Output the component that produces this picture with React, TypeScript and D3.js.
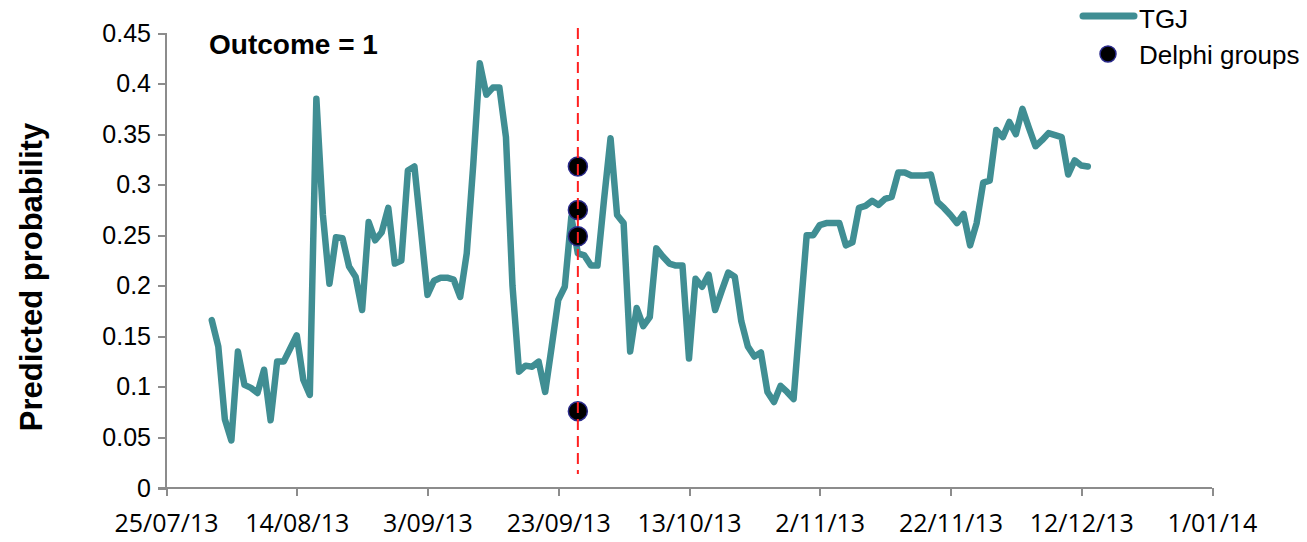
import React, { useRef, useEffect } from 'react';
import * as d3 from 'd3';

// daily predicted probability for TGJ, starting 1/08/13
const seriesStart = '2013-08-01';
const tgjValues = [
  0.166, 0.14, 0.068, 0.047, 0.135, 0.102, 0.099, 0.094, 0.117, 0.067,
  0.125, 0.125, 0.138, 0.151, 0.107, 0.092, 0.385, 0.27, 0.202, 0.248,
  0.247, 0.219, 0.209, 0.176, 0.263, 0.245, 0.253, 0.277, 0.222, 0.225,
  0.314, 0.318, 0.255, 0.191, 0.205, 0.208, 0.208, 0.206, 0.189, 0.232,
  0.32, 0.42, 0.389, 0.396, 0.396, 0.347, 0.2, 0.115, 0.121, 0.12,
  0.125, 0.095, 0.14, 0.186, 0.199, 0.268, 0.232, 0.23, 0.22, 0.22,
  0.285, 0.346, 0.27, 0.262, 0.135, 0.178, 0.16, 0.169, 0.237, 0.229,
  0.222, 0.22, 0.22, 0.128, 0.207, 0.199, 0.211, 0.176, 0.195, 0.213,
  0.209, 0.165, 0.14, 0.13, 0.134, 0.095, 0.085, 0.101, 0.095, 0.088,
  0.17, 0.25, 0.25, 0.26, 0.262, 0.262, 0.262, 0.24, 0.243, 0.277,
  0.279, 0.284, 0.28, 0.286, 0.288, 0.312, 0.312, 0.309, 0.309, 0.309,
  0.31, 0.283, 0.277, 0.27, 0.262, 0.271, 0.24, 0.262, 0.302, 0.304,
  0.354, 0.347, 0.362, 0.35, 0.375, 0.356, 0.338, 0.344, 0.351, 0.349,
  0.347, 0.31, 0.324, 0.319, 0.318,
];

const delphiDate = '2013-09-26';
const delphiValues = [0.318, 0.275, 0.249, 0.076];

const xTickLabels = ['25/07/13', '14/08/13', '3/09/13', '23/09/13', '13/10/13', '2/11/13', '22/11/13', '12/12/13', '1/01/14'];
const yTicks = [0, 0.05, 0.1, 0.15, 0.2, 0.25, 0.3, 0.35, 0.4, 0.45];

const TEAL = '#408e93';
const AXIS = '#8c8c8c';
const SANS = '"Liberation Sans", Arial, sans-serif';

const parse = d3.utcParse('%Y-%m-%d');

const App = () => {
  const svgRef = useRef<SVGSVGElement>(null);

  useEffect(() => {
    const svg = d3.select(svgRef.current);
    svg.selectAll('*').remove();

    svg.attr('width', 1307).attr('height', 542);

    const x0 = parse('2013-07-25')!;
    const x1 = parse('2014-01-01')!;
    const x = d3.scaleUtc().domain([x0, x1]).range([166, 1212]);
    const y = d3.scaleLinear().domain([0, 0.45]).range([488, 33]);

    const start = parse(seriesStart)!;
    const data = tgjValues.map((v, i) => ({ date: d3.utcDay.offset(start, i), value: v }));
    const tickDates = xTickLabels.map((_, i) => d3.utcDay.offset(x0, i * 20));
    const dx = x(parse(delphiDate)!);

    // y axis
    const yAxis = svg.append('g').attr('transform', 'translate(166,0)')
      .call(d3.axisLeft(y).tickValues(yTicks).tickSize(8).tickFormat(d => String(+d)));
    yAxis.select('.domain').attr('stroke', AXIS).attr('stroke-width', 2).attr('d', 'M0,33V488');
    yAxis.selectAll('.tick line').attr('stroke', AXIS).attr('stroke-width', 2);
    yAxis.selectAll('.tick text')
      .attr('x', -15)
      .style('font-family', SANS)
      .style('font-size', '25px')
      .attr('fill', '#000');

    // x axis
    const xAxis = svg.append('g').attr('transform', 'translate(0,488)')
      .call(d3.axisBottom(x).tickValues(tickDates).tickSize(8).tickFormat((_, i) => xTickLabels[i]));
    xAxis.select('.domain').attr('stroke', AXIS).attr('stroke-width', 2).attr('d', 'M158,0H1212');
    xAxis.selectAll('.tick line').attr('stroke', AXIS).attr('stroke-width', 2);
    xAxis.selectAll('.tick text')
      .attr('y', 26)
      .attr('dy', '0.71em')
      .style('font-family', '"Open Sans", sans-serif')
      .style('font-size', '25px')
      .attr('fill', '#000');
    svg.selectAll('.domain, .tick line').attr('shape-rendering', 'crispEdges');
    svg.selectAll('g').attr('font-family', null).attr('font-size', null);

    // TGJ line
    const line = d3.line<{ date: Date; value: number }>()
      .x(d => x(d.date))
      .y(d => y(d.value));
    svg.append('path')
      .datum(data)
      .attr('d', line)
      .attr('fill', 'none')
      .attr('stroke', TEAL)
      .attr('stroke-width', 6.5)
      .attr('stroke-linejoin', 'round')
      .attr('stroke-linecap', 'round');

    // Delphi groups
    svg.selectAll('circle.delphi')
      .data(delphiValues)
      .join('circle')
      .attr('class', 'delphi')
      .attr('cx', dx)
      .attr('cy', d => y(d))
      .attr('r', 9.5)
      .attr('fill', '#000')
      .attr('stroke', '#2b2b8c')
      .attr('stroke-width', 1.5);

    // red dashed marker, on top of the dots
    svg.append('line')
      .attr('x1', dx).attr('x2', dx)
      .attr('y1', 28).attr('y2', 474)
      .attr('stroke', '#ff2020').attr('stroke-width', 2)
      .attr('stroke-dasharray', '11,6');

    // annotation
    svg.append('text')
      .attr('x', 209).attr('y', 54)
      .style('font-family', SANS)
      .style('font-size', '28px')
      .style('font-weight', 'bold')
      .text('Outcome = 1');

    // y axis title
    svg.append('text')
      .attr('transform', 'translate(42,277) rotate(-90)')
      .attr('text-anchor', 'middle')
      .style('font-family', SANS)
      .style('font-size', '31px')
      .style('font-weight', 'bold')
      .text('Predicted probability');

    // legend
    const legend = svg.append('g');
    legend.append('line')
      .attr('x1', 1083).attr('x2', 1134).attr('y1', 16).attr('y2', 16)
      .attr('stroke', TEAL).attr('stroke-width', 7).attr('stroke-linecap', 'round');
    legend.append('text')
      .attr('x', 1139).attr('y', 28)
      .style('font-family', SANS)
      .style('font-size', '26px')
      .text('TGJ');
    legend.append('circle')
      .attr('cx', 1108).attr('cy', 54).attr('r', 8)
      .attr('fill', '#000').attr('stroke', '#2b2b8c').attr('stroke-width', 1.5);
    legend.append('text')
      .attr('x', 1139).attr('y', 64)
      .style('font-family', SANS)
      .style('font-size', '26px')
      .text('Delphi groups');
  }, []);

  return (
    <svg ref={svgRef} style={{ position: 'absolute', left: 0, top: 0 }}></svg>
  );
};

export default App;
